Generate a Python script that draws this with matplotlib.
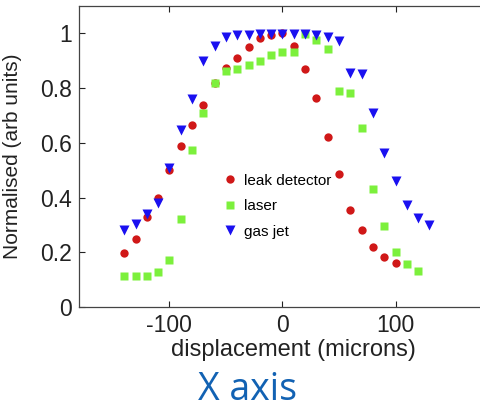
import matplotlib
matplotlib.use("Agg")
import matplotlib.pyplot as plt
from matplotlib.ticker import FormatStrFormatter
import numpy as np

plt.rcParams['font.family'] = ['Liberation Sans', 'DejaVu Sans']
plt.rcParams['axes.unicode_minus'] = False

# displacement positions (microns)
x_leak = np.arange(-140, 101, 10)
x_laser = np.arange(-140, 121, 10)
x_gas = np.arange(-140, 131, 10)

leak = [0.196, 0.25, 0.328, 0.40, 0.50, 0.59, 0.665, 0.738, 0.82, 0.874,
        0.91, 0.95, 0.983, 0.995, 1.0, 0.954, 0.869, 0.764, 0.623, 0.486,
        0.355, 0.282, 0.218, 0.184, 0.162]
laser = [0.114, 0.114, 0.114, 0.128, 0.171, 0.32, 0.572, 0.71, 0.817, 0.863,
         0.868, 0.884, 0.898, 0.92, 0.93, 0.93, 0.999, 0.977, 0.944, 0.789,
         0.783, 0.653, 0.432, 0.296, 0.201, 0.156, 0.13]
gas = [0.28, 0.305, 0.34, 0.38, 0.508, 0.647, 0.759, 0.898, 0.954, 0.987,
       0.993, 0.993, 0.999, 0.999, 0.999, 0.999, 0.999, 0.995, 0.987, 0.971,
       0.856, 0.85, 0.71, 0.562, 0.462, 0.371, 0.326, 0.298]

fig = plt.figure(figsize=(4.81, 4.12), dpi=100)
ax = fig.add_axes([0.1642, 0.2549, 0.8462, 0.7306])

ax.plot(x_leak, leak, 'o', color='#D01818', ms=6, mec='none', label='leak detector')
ax.plot(x_laser, laser, 's', color='#7CF03C', ms=6, mec='none', label='laser')
ax.plot(x_gas, gas, 'v', color='#1A10F0', ms=7.5, mec='none', label='gas jet')

ax.set_xlim(-180, 180)
ax.set_ylim(0, 1.1)
ax.set_xticks([-100, 0, 100])
ax.set_yticks([0, 0.2, 0.4, 0.6, 0.8, 1.0])
ax.yaxis.set_major_formatter(FormatStrFormatter('%g'))
ax.tick_params(direction='in', length=4, width=0.8, top=True, right=True,
               labelsize=16.5, pad=5, colors='#222222')
for s in ax.spines.values():
    s.set_color('#444444')
    s.set_linewidth(0.9)

ax.set_xlabel('displacement (microns)', fontsize=17, color='#222222', labelpad=0)
ax.xaxis.set_label_coords(0.528, -0.105)
ax.set_ylabel('Normalised (arb units)', fontsize=15, color='#222222')
ax.yaxis.set_label_coords(-0.14, 0.5)

ax.legend(loc='center left', bbox_to_anchor=(0.33, 0.335), frameon=False,
          fontsize=11, handletextpad=0.3, labelspacing=0.75, handlelength=1.2,
          borderpad=0)

fig.text(248 / 481, 1 - 400 / 412, 'X axis', fontsize=27, color='#1262B3',
         family=['Open Sans', 'DejaVu Sans'], ha='center', va='baseline')

fig.savefig('out.png', dpi=100)
